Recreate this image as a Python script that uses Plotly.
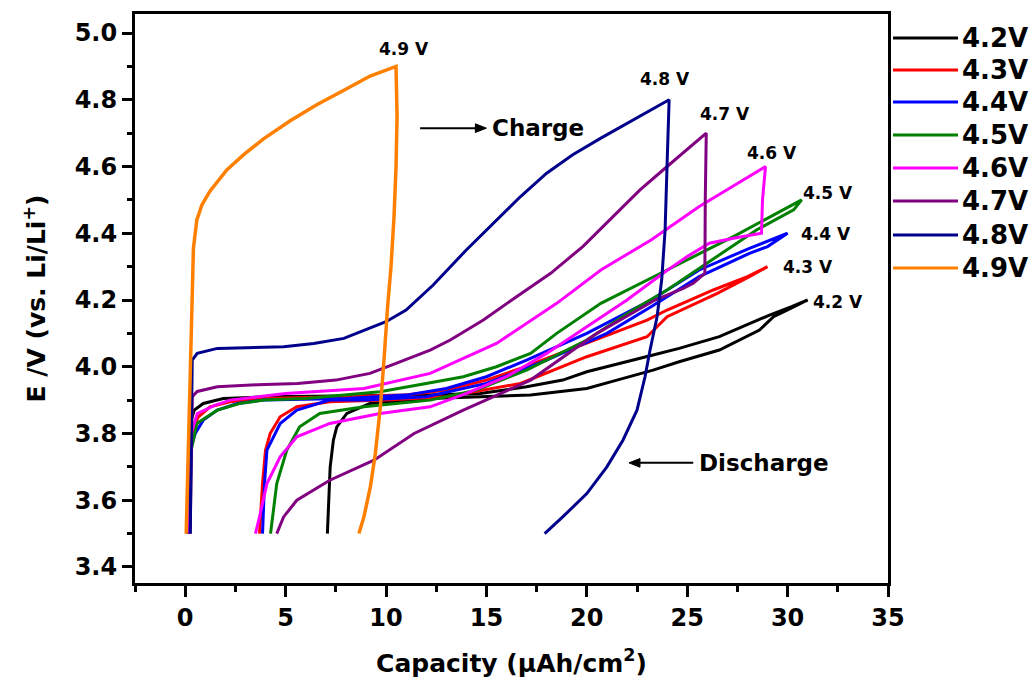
import plotly.graph_objects as go

# ---- Galvanostatic charge/discharge data (capacity in µAh/cm², potential in V) ----
cutoffs = ["4.2 V", "4.3 V", "4.4 V", "4.5 V", "4.6 V", "4.7 V", "4.8 V", "4.9 V"]
colors = ["#000000", "#ff0000", "#0000ff", "#008000", "#ff00ff", "#800080", "#00008b", "#ff8000"]

# 4.2 V
chg42_q = [0.1, 0.15, 0.25, 0.45, 0.9, 1.9, 4, 8, 12, 14.7, 17, 18.8, 20, 23.3, 24.6, 26.6, 29.1, 30.2, 31.0]
chg42_v = [3.5, 3.7, 3.83, 3.87, 3.89, 3.905, 3.91, 3.912, 3.915, 3.92, 3.94, 3.96, 3.985, 4.035, 4.055, 4.09, 4.155, 4.18, 4.2]
dis42_q = [31.0, 30.0, 29.3, 28.6, 26.6, 24.6, 23.3, 21.5, 20, 17.2, 12.2, 9.2, 8.05, 7.55, 7.38, 7.22, 7.14, 7.08]
dis42_v = [4.2, 4.17, 4.15, 4.11, 4.05, 4.015, 3.99, 3.96, 3.935, 3.915, 3.905, 3.89, 3.86, 3.82, 3.78, 3.70, 3.60, 3.5]

# 4.3 V
chg43_q = [0.1, 0.2, 0.4, 0.66, 1.24, 2.24, 4, 8, 11, 13, 15, 16.7, 20, 23, 24, 26.3, 28, 29]
chg43_v = [3.5, 3.75, 3.82, 3.85, 3.88, 3.895, 3.905, 3.91, 3.915, 3.93, 3.96, 3.995, 4.07, 4.14, 4.17, 4.23, 4.27, 4.3]
dis43_q = [29, 28.1, 26.5, 24, 23, 20, 16.7, 13, 10, 7.2, 5.56, 4.73, 4.23, 4.0, 3.85, 3.7]
dis43_v = [4.3, 4.27, 4.22, 4.15, 4.09, 4.03, 3.95, 3.91, 3.9, 3.895, 3.88, 3.85, 3.8, 3.75, 3.65, 3.5]

# 4.4 V
chg44_q = [0.15, 0.25, 0.5, 0.9, 1.6, 2.6, 3.9, 8, 11, 13, 15, 17, 20, 23.2, 25.6, 28.1, 30]
chg44_v = [3.5, 3.75, 3.8, 3.84, 3.87, 3.89, 3.9, 3.905, 3.915, 3.935, 3.97, 4.02, 4.1, 4.2, 4.29, 4.355, 4.4]
dis44_q = [30, 29, 28.1, 25.6, 23.2, 21, 18, 15, 12, 9, 7.2, 5.56, 4.73, 4.07, 3.95, 3.85]
dis44_v = [4.4, 4.36, 4.34, 4.27, 4.18, 4.1, 4.02, 3.95, 3.91, 3.9, 3.9, 3.87, 3.83, 3.75, 3.65, 3.5]

# 4.5 V
chg45_q = [0.2, 0.3, 0.58, 1.6, 2.7, 3.9, 6, 9.7, 12, 13.85, 15.5, 17.2, 18.5, 20.7, 24, 27.3, 30.7]
chg45_v = [3.5, 3.75, 3.83, 3.87, 3.89, 3.9, 3.905, 3.925, 3.95, 3.97, 4.0, 4.04, 4.1, 4.19, 4.29, 4.39, 4.5]
dis45_q = [30.7, 30.3, 28.45, 26.5, 24, 22.3, 20, 17, 14.5, 12.2, 8.9, 6.7, 5.7, 5.06, 4.56, 4.25]
dis45_v = [4.5, 4.47, 4.41, 4.33, 4.23, 4.17, 4.08, 3.99, 3.93, 3.9, 3.88, 3.86, 3.82, 3.75, 3.65, 3.5]

# 4.6 V
chg46_q = [0.2, 0.3, 0.6, 1.5, 2.24, 5, 8.9, 12.2, 15.5, 18.5, 20.7, 23.2, 25.6, 28.9]
chg46_v = [3.5, 3.8, 3.86, 3.885, 3.9, 3.92, 3.935, 3.98, 4.07, 4.19, 4.29, 4.38, 4.48, 4.6]
dis46_q = [28.9, 28.75, 28.7, 27.3, 26.1, 25, 23.8, 22, 20, 18, 16, 14, 12.2, 9.7, 7.2, 5.56, 4.73, 4.07, 3.7, 3.5]
dis46_v = [4.6, 4.5, 4.4, 4.385, 4.37, 4.33, 4.28, 4.2, 4.12, 4.04, 3.97, 3.92, 3.88, 3.86, 3.83, 3.79, 3.73, 3.65, 3.55, 3.5]

# 4.7 V
chg47_q = [0.25, 0.3, 0.35, 0.6, 1.6, 3.6, 5.6, 7.5, 9.2, 10.5, 12.2, 13.2, 14.85, 16.5, 18.2, 19.8, 21.5, 22.65, 24, 25, 25.95]
chg47_v = [3.5, 3.8, 3.91, 3.926, 3.94, 3.946, 3.95, 3.96, 3.98, 4.01, 4.05, 4.08, 4.14, 4.21, 4.28, 4.36, 4.46, 4.53, 4.6, 4.65, 4.7]
dis47_q = [25.95, 25.9, 25.88, 25.3, 24.8, 23.4, 20.5, 17.2, 13.85, 11.4, 9.4, 7.2, 5.56, 4.9, 4.56]
dis47_v = [4.7, 4.5, 4.28, 4.25, 4.235, 4.2, 4.1, 3.96, 3.87, 3.8, 3.72, 3.66, 3.6, 3.55, 3.5]

# 4.8 V
chg48_q = [0.25, 0.3, 0.35, 0.6, 1.6, 4.9, 6.4, 7.9, 9.2, 10.0, 11.0, 12.35, 14.0, 15.7, 16.7, 18.0, 19.3, 20.7, 22.3, 24.1]
chg48_v = [3.5, 3.8, 4.02, 4.04, 4.055, 4.06, 4.07, 4.085, 4.115, 4.135, 4.17, 4.245, 4.35, 4.45, 4.51, 4.58, 4.635, 4.685, 4.74, 4.8]
dis48_q = [24.1, 24.0, 23.9, 23.73, 23.5, 23.15, 22.9, 22.5, 21.8, 21.0, 20.0, 18.8, 17.9]
dis48_v = [4.8, 4.61, 4.41, 4.26, 4.15, 4.05, 3.97, 3.87, 3.78, 3.70, 3.62, 3.55, 3.5]

# 4.9 V
chg49_q = [0.05, 0.17, 0.25, 0.33, 0.41, 0.58, 0.83, 1.24, 2.07, 2.9, 3.9, 5.23, 6.55, 7.88, 9.21, 10.5]
chg49_v = [3.5, 3.81, 4.03, 4.25, 4.356, 4.44, 4.485, 4.527, 4.59, 4.635, 4.683, 4.737, 4.785, 4.828, 4.871, 4.9]
dis49_q = [10.5, 10.55, 10.5, 10.4, 10.25, 10.08, 9.9, 9.72, 9.47, 9.22, 8.9, 8.65]
dis49_v = [4.9, 4.75, 4.6, 4.45, 4.3, 4.18, 4.02, 3.88, 3.74, 3.64, 3.55, 3.5]

charge_q = [chg42_q, chg43_q, chg44_q, chg45_q, chg46_q, chg47_q, chg48_q, chg49_q]
charge_v = [chg42_v, chg43_v, chg44_v, chg45_v, chg46_v, chg47_v, chg48_v, chg49_v]
discharge_q = [dis42_q, dis43_q, dis44_q, dis45_q, dis46_q, dis47_q, dis48_q, dis49_q]
discharge_v = [dis42_v, dis43_v, dis44_v, dis45_v, dis46_v, dis47_v, dis48_v, dis49_v]

# end-of-charge labels placed next to each curve's turning point
label_q = [32.5, 31.0, 31.9, 32.0, 29.2, 26.9, 23.9, 10.9]
label_v = [4.193, 4.298, 4.398, 4.522, 4.64, 4.757, 4.862, 4.953]

FONT = "DejaVu Sans"

fig = go.Figure()
for i, name in enumerate(cutoffs):
    q = charge_q[i] + discharge_q[i][1:]
    v = charge_v[i] + discharge_v[i][1:]
    fig.add_trace(go.Scatter(
        x=q, y=v, mode="lines", name=name,
        line=dict(color=colors[i], width=3.5 if i == 7 else 3),
        showlegend=False,
    ))

# curve labels
for i, name in enumerate(cutoffs):
    fig.add_annotation(x=label_q[i], y=label_v[i], text=name, showarrow=False,
                       font=dict(family=FONT, size=17, color="black", weight="bold"))


def arrow(x_tail, x_head, y):
    """Horizontal arrow drawn as a line plus a filled triangular head (data coords)."""
    d = 1 if x_head > x_tail else -1
    hl, hw = 0.55, 0.013
    fig.add_shape(type="line", xref="x", yref="y", x0=x_tail, x1=x_head - d * hl * 0.5, y0=y, y1=y,
                  line=dict(color="black", width=2))
    fig.add_shape(type="path", xref="x", yref="y",
                  path=f"M {x_head} {y} L {x_head - d * hl} {y + hw} L {x_head - d * hl} {y - hw} Z",
                  fillcolor="black", line=dict(color="black", width=1))


arrow(11.7, 15.0, 4.715)
fig.add_annotation(x=15.2, y=4.715, text="Charge", showarrow=False, xanchor="left",
                   font=dict(family=FONT, size=23, color="black", weight="bold"))
arrow(25.3, 22.1, 3.712)
fig.add_annotation(x=25.5, y=3.712, text="Discharge", showarrow=False, xanchor="left",
                   font=dict(family=FONT, size=23, color="black", weight="bold"))

# legend drawn to the right of the frame
L, R, T, B = 135, 144, 14, 103
W, H = 1032, 686
pw, ph = W - L - R, H - T - B


def px(xp):
    return (xp - L) / pw


def py(yp):
    return (H - B - yp) / ph


leg_y = [38, 70, 102, 135, 168, 201, 235, 268]
for i, name in enumerate(cutoffs):
    fig.add_shape(type="line", xref="paper", yref="paper",
                  x0=px(893), x1=px(958), y0=py(leg_y[i]), y1=py(leg_y[i]),
                  line=dict(color=colors[i], width=3))
    fig.add_annotation(xref="paper", yref="paper", x=px(960), y=py(leg_y[i]),
                       text=name.replace(" ", ""), showarrow=False, xanchor="left", yanchor="middle",
                       font=dict(family=FONT, size=26, color="black", weight="bold"))

axis_common = dict(
    showline=True, linecolor="black", linewidth=3, mirror=True,
    ticks="outside", tickcolor="black", tickwidth=3,
    showgrid=False, zeroline=False,
)

fig.update_xaxes(
    range=[-2.5, 35], tickvals=[0, 5, 10, 15, 20, 25, 30, 35], ticklen=11,
    minor=dict(ticks="outside", tickvals=[-2.5, 2.5, 7.5, 12.5, 17.5, 22.5, 27.5, 32.5],
               ticklen=6, tickwidth=3, tickcolor="black"),
    tickfont=dict(family=FONT, size=24, color="black", weight="bold"),
    title=dict(text="Capacity (μAh/cm<sup>2</sup>)", standoff=24,
               font=dict(family=FONT, size=25, color="black", weight="bold")),
    **axis_common,
)
fig.update_yaxes(
    range=[3.352, 5.057], tickvals=[3.4, 3.6, 3.8, 4.0, 4.2, 4.4, 4.6, 4.8, 5.0], tickformat=".1f", ticklen=10,
    minor=dict(ticks="outside", tickvals=[3.5, 3.7, 3.9, 4.1, 4.3, 4.5, 4.7, 4.9],
               ticklen=5, tickwidth=3, tickcolor="black"),
    tickfont=dict(family=FONT, size=24, color="black", weight="bold"),
    title=dict(text="E /V (vs. Li/Li<sup>+</sup>)", standoff=22,
               font=dict(family=FONT, size=25, color="black", weight="bold")),
    **axis_common,
)

fig.update_layout(
    width=W, height=H,
    margin=dict(l=L, r=R, t=T, b=B),
    paper_bgcolor="white", plot_bgcolor="white",
    showlegend=False,
)

fig.write_html("out.html")
